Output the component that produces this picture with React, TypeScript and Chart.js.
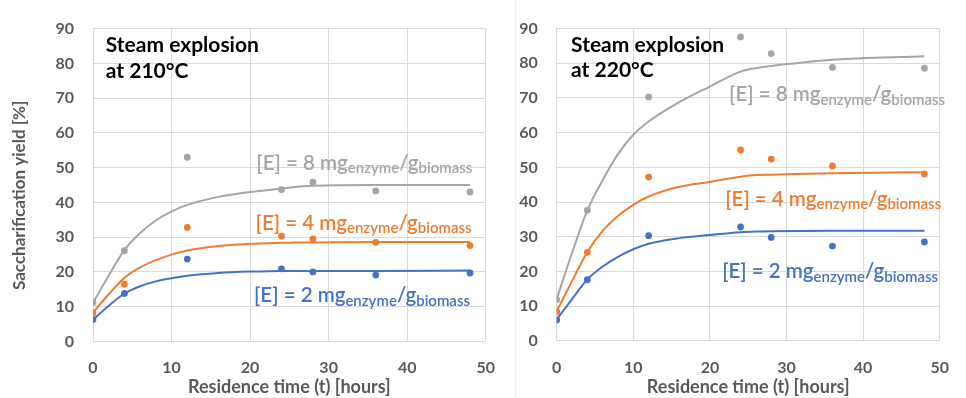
import React, { useEffect, useRef } from 'react';
import { Chart, registerables } from 'chart.js';

Chart.register(...registerables);

// Measured residence times (hours)
const timeHours = [0, 4, 12, 24, 28, 36, 48];
// Steam explosion at 210 °C – measured yields [%]
const yield210E2 = [6.3, 13.8, 23.7, 20.9, 20.0, 19.1, 19.7];
const yield210E4 = [8.2, 16.5, 32.8, 30.3, 29.5, 28.5, 27.6];
const yield210E8 = [11.2, 26.1, 53.0, 43.7, 45.8, 43.3, 43.0];
// Steam explosion at 220 °C – measured yields [%]
const yield220E2 = [6.0, 17.6, 30.3, 32.8, 29.8, 27.3, 28.5];
const yield220E4 = [8.4, 25.5, 47.2, 55.0, 52.4, 50.4, 48.1];
const yield220E8 = [11.8, 37.6, 70.3, 87.6, 82.8, 78.8, 78.6];

// Model curves
const fitHours = [0, 2, 4, 6, 8, 10, 12, 16, 20, 24, 26, 28, 36, 48];
const fit210E2 = [6.3, 10.3, 13.8, 15.9, 17.3, 18.2, 18.9, 19.7, 20.1, 20.3, 20.3, 20.3, 20.3, 20.4];
const fit210E4 = [8.3, 13.6, 18.3, 21.3, 23.4, 25.0, 26.2, 27.5, 28.1, 28.4, 28.5, 28.5, 28.6, 28.6];
const fit210E8 = [11.1, 19.0, 26.3, 31.2, 34.8, 37.4, 39.3, 41.6, 43.0, 44.0, 44.5, 44.8, 45.0, 45.0];
const fit220E2 = [6.2, 12.0, 17.7, 21.4, 24.2, 26.4, 28.0, 29.6, 30.5, 31.3, 31.5, 31.6, 31.7, 31.7];
const fit220E4 = [8.5, 17.2, 25.6, 31.7, 36.0, 39.2, 41.6, 44.4, 45.8, 47.3, 47.8, 47.9, 48.3, 48.6];
const fit220E8 = [12.0, 25.3, 37.6, 46.3, 53.8, 59.4, 63.2, 68.8, 73.3, 77.6, 78.6, 79.2, 81.0, 82.0];

// Axis ticks
const xTickMin = 0;
const xTickMax = 50;
const xTickStep = 10;
const yTickMin = 0;
const yTickMax = 90;
const yTickStep = 10;

const xTitle = 'Residence time (t) [hours]';
const yTitle = 'Saccharification yield [%]';

const GRAY = '#A5A5A5';
const ORANGE = '#ED7D31';
const BLUE = '#4472C4';
const TEXT = '#595959';
const GRID = '#D9D9D9';
const FONT = 'Lato, "Open Sans", sans-serif';

type Part = { text: string; sub?: boolean };
type Note = { x: number; y: number; color: string; weight: string; size: number; parts: Part[] };

const enzymeLabel = (dose: string): Part[] => [
  { text: `[E] = ${dose} mg` },
  { text: 'enzyme', sub: true },
  { text: '/g' },
  { text: 'biomass', sub: true },
];

const notes210: Note[] = [
  { x: 1.63, y: 83.2, color: '#000000', weight: 'bold', size: 21, parts: [{ text: 'Steam explosion' }] },
  { x: 1.63, y: 75.9, color: '#000000', weight: 'bold', size: 21, parts: [{ text: 'at 210°C' }] },
  { x: 20.8, y: 49.4, color: GRAY, weight: '600', size: 20.5, parts: enzymeLabel('8') },
  { x: 20.7, y: 32.1, color: ORANGE, weight: '600', size: 20.5, parts: enzymeLabel('4') },
  { x: 20.5, y: 11.25, color: BLUE, weight: '600', size: 20.5, parts: enzymeLabel('2') },
];
const notes220: Note[] = [
  { x: 1.88, y: 83.3, color: '#000000', weight: 'bold', size: 21, parts: [{ text: 'Steam explosion' }] },
  { x: 1.88, y: 76.1, color: '#000000', weight: 'bold', size: 21, parts: [{ text: 'at 220°C' }] },
  { x: 22.5, y: 69.0, color: GRAY, weight: '600', size: 20.5, parts: enzymeLabel('8') },
  { x: 22.0, y: 39.0, color: ORANGE, weight: '600', size: 20.5, parts: enzymeLabel('4') },
  { x: 21.6, y: 18.1, color: BLUE, weight: '600', size: 20.5, parts: enzymeLabel('2') },
];

const textNotesPlugin = {
  id: 'textNotes',
  afterDatasetsDraw(chart: any, _args: any, opts: any) {
    const items: Note[] = opts.items || [];
    const ctx = chart.ctx;
    const xs = chart.scales.x;
    const ys = chart.scales.y;
    ctx.save();
    ctx.textBaseline = 'alphabetic';
    ctx.textAlign = 'left';
    for (const n of items) {
      let cx = xs.getPixelForValue(n.x);
      const by = ys.getPixelForValue(n.y);
      ctx.fillStyle = n.color;
      for (const p of n.parts) {
        const size = p.sub ? Math.round(n.size * 0.72) : n.size;
        ctx.font = `${n.weight} ${size}px ${FONT}`;
        ctx.fillText(p.text, cx, by + (p.sub ? 3.5 : 0));
        cx += ctx.measureText(p.text).width;
      }
    }
    ctx.restore();
  },
};

const pts = (xs: number[], ys: number[]) => xs.map((x, i) => ({ x, y: ys[i] }));

function makeConfig(
  meas: [number[], number[], number[]],
  fits: [number[], number[], number[]],
  notes: Note[],
  showYTitle: boolean,
  yAxisWidth: number,
  xAxisHeight: number,
  padRight: number,
): any {
  const colors = [GRAY, ORANGE, BLUE];
  const order = [2, 1, 0]; // E8, E4, E2
  const datasets: any[] = [];
  order.forEach((idx, k) => {
    datasets.push({
      data: pts(fitHours, fits[idx]),
      borderColor: colors[k],
      backgroundColor: colors[k],
      borderWidth: 2,
      pointRadius: 0,
      cubicInterpolationMode: 'monotone',
      fill: false,
    });
    datasets.push({
      data: pts(timeHours, meas[idx]),
      showLine: false,
      borderColor: colors[k],
      backgroundColor: colors[k],
      pointRadius: 3.4,
      pointBorderWidth: 0,
    });
  });
  const tickFont = { family: FONT, size: 16, weight: 'bold' };
  return {
    type: 'line',
    data: { datasets },
    options: {
      responsive: false,
      animation: false,
      layout: { padding: { top: 21.7, right: padRight, bottom: 0, left: 0 } },
      plugins: {
        legend: { display: false },
        tooltip: { enabled: false },
        textNotes: { items: notes },
      },
      scales: {
        x: {
          type: 'linear',
          min: xTickMin,
          max: xTickMax,
          ticks: { stepSize: xTickStep, color: TEXT, font: tickFont, padding: 17, maxRotation: 0 },
          grid: { color: GRID, lineWidth: 1, drawTicks: false },
          border: { display: true, color: GRID, width: 1 },
          title: {
            display: true,
            text: xTitle,
            color: TEXT,
            font: { family: FONT, size: 18, weight: 'bold' },
            padding: { top: 0, bottom: 0 },
          },
          afterFit: (s: any) => {
            s.height = xAxisHeight;
          },
        },
        y: {
          type: 'linear',
          min: yTickMin,
          max: yTickMax,
          ticks: { stepSize: yTickStep, color: TEXT, font: tickFont, padding: 19 },
          grid: { color: GRID, lineWidth: 1, drawTicks: false },
          border: { display: true, color: GRID, width: 1 },
          title: {
            display: showYTitle,
            text: yTitle + '\u00a0\u00a0\u00a0\u00a0\u00a0',
            color: TEXT,
            font: { family: FONT, size: 17, weight: 'bold' },
            padding: { top: 9.8, bottom: 0 },
          },
          afterFit: (s: any) => {
            s.width = yAxisWidth;
          },
        },
      },
    },
    plugins: [textNotesPlugin],
  };
}

export default function App() {
  const leftRef = useRef<HTMLCanvasElement>(null);
  const rightRef = useRef<HTMLCanvasElement>(null);

  useEffect(() => {
    const charts: Chart[] = [];
    if (leftRef.current) {
      charts.push(
        new Chart(
          leftRef.current,
          makeConfig(
            [yield210E2, yield210E4, yield210E8],
            [fit210E2, fit210E4, fit210E8],
            notes210,
            true,
            93,
            398 - 341.5,
            512 - 492,
          ),
        ),
      );
    }
    if (rightRef.current) {
      charts.push(
        new Chart(
          rightRef.current,
          makeConfig(
            [yield220E2, yield220E4, yield220E8],
            [fit220E2, fit220E4, fit220E8],
            notes220,
            false,
            76.7,
            398 - 340.8,
            486 - 475.7,
          ),
        ),
      );
    }
    return () => charts.forEach((c) => c.destroy());
  }, []);

  return (
    <div style={{ position: 'fixed', left: 0, top: 0, width: 966, height: 398, background: '#fff', overflow: 'hidden' }}>
      <div style={{ position: 'absolute', left: 515, top: 0, width: 0, height: 398, borderLeft: '1px solid #eeeeee' }} />
      <canvas ref={leftRef} width={512} height={398} style={{ position: 'absolute', left: 0, top: 0, width: 512, height: 398 }} />
      <canvas ref={rightRef} width={486} height={398} style={{ position: 'absolute', left: 480, top: 0, width: 486, height: 398 }} />
    </div>
  );
}
